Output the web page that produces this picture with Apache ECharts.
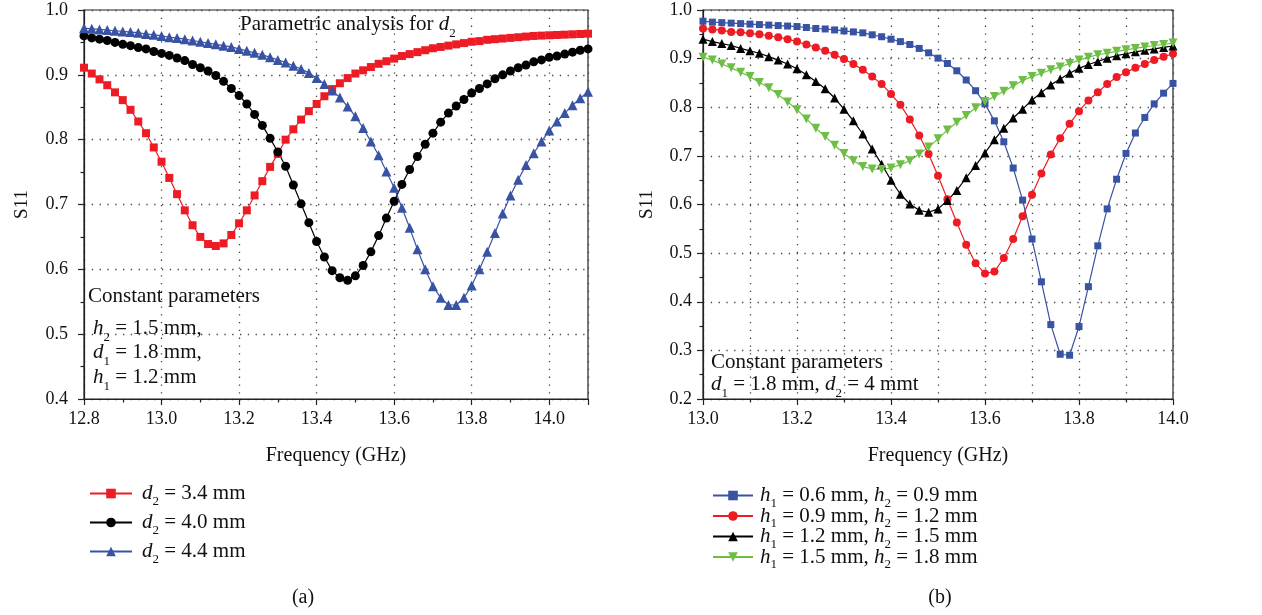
<!DOCTYPE html>
<html><head><meta charset="utf-8">
<script src="https://cdn.jsdelivr.net/npm/echarts@6/dist/echarts.min.js"></script>
<style>html,body{margin:0;padding:0;background:#fff}#c{width:1262px;height:615px}</style>
</head><body><div id="c"></div>
<script>
// ---- Panel (a) data ----
const freqA = [12.80,12.82,12.84,12.86,12.88,12.90,12.92,12.94,12.96,12.98,
13.00,13.02,13.04,13.06,13.08,13.10,13.12,13.14,13.16,13.18,
13.20,13.22,13.24,13.26,13.28,13.30,13.32,13.34,13.36,13.38,
13.40,13.42,13.44,13.46,13.48,13.50,13.52,13.54,13.56,13.58,
13.60,13.62,13.64,13.66,13.68,13.70,13.72,13.74,13.76,13.78,
13.80,13.82,13.84,13.86,13.88,13.90,13.92,13.94,13.96,13.98,
14.00,14.02,14.04,14.06,14.08,14.10];
const d2_34 = [0.911,0.902,0.893,0.884,0.873,0.861,0.846,0.828,0.810,0.788,
0.766,0.741,0.716,0.691,0.668,0.650,0.639,0.636,0.640,0.653,
0.671,0.691,0.714,0.736,0.758,0.778,0.800,0.816,0.831,0.844,
0.855,0.867,0.878,0.887,0.895,0.902,0.907,0.912,0.917,0.921,
0.925,0.929,0.932,0.935,0.938,0.941,0.943,0.945,0.947,0.949,
0.951,0.952,0.954,0.955,0.956,0.957,0.958,0.959,0.960,0.9605,
0.961,0.9615,0.962,0.9625,0.963,0.9635];
const d2_40 = [0.960,0.957,0.955,0.953,0.950,0.947,0.945,0.942,0.940,0.936,
0.933,0.930,0.926,0.922,0.916,0.911,0.906,0.899,0.890,0.879,
0.868,0.855,0.839,0.822,0.802,0.781,0.759,0.730,0.701,0.672,
0.643,0.619,0.598,0.587,0.583,0.590,0.606,0.627,0.652,0.679,
0.705,0.731,0.754,0.774,0.793,0.810,0.827,0.841,0.852,0.862,
0.872,0.879,0.886,0.894,0.900,0.906,0.911,0.915,0.920,0.923,
0.927,0.929,0.932,0.935,0.938,0.940];
const d2_44 = [0.972,0.971,0.970,0.969,0.968,0.967,0.966,0.965,0.963,0.962,
0.960,0.958,0.957,0.955,0.953,0.951,0.949,0.947,0.945,0.943,
0.940,0.937,0.934,0.931,0.927,0.923,0.919,0.914,0.909,0.903,
0.895,0.886,0.876,0.865,0.851,0.836,0.818,0.797,0.776,0.751,
0.726,0.695,0.664,0.631,0.600,0.574,0.556,0.545,0.545,0.556,
0.575,0.600,0.627,0.656,0.686,0.714,0.738,0.761,0.779,0.797,
0.814,0.828,0.841,0.853,0.864,0.874];

// ---- Panel (b) data ----
const freqB = [13.00,13.02,13.04,13.06,13.08,13.10,13.12,13.14,13.16,13.18,
13.20,13.22,13.24,13.26,13.28,13.30,13.32,13.34,13.36,13.38,
13.40,13.42,13.44,13.46,13.48,13.50,13.52,13.54,13.56,13.58,
13.60,13.62,13.64,13.66,13.68,13.70,13.72,13.74,13.76,13.78,
13.80,13.82,13.84,13.86,13.88,13.90,13.92,13.94,13.96,13.98,14.00];
const h06 = [0.977,0.975,0.974,0.973,0.972,0.971,0.970,0.969,0.968,0.967,
0.966,0.964,0.962,0.961,0.959,0.957,0.955,0.953,0.949,0.945,
0.940,0.935,0.929,0.921,0.912,0.901,0.890,0.875,0.856,0.834,
0.807,0.772,0.729,0.675,0.609,0.529,0.441,0.353,0.292,0.290,
0.349,0.431,0.515,0.591,0.652,0.705,0.747,0.779,0.807,0.829,0.849];
const h09 = [0.962,0.960,0.958,0.955,0.954,0.952,0.950,0.947,0.944,0.940,
0.935,0.929,0.923,0.916,0.908,0.899,0.889,0.877,0.863,0.848,
0.827,0.805,0.775,0.742,0.704,0.659,0.611,0.563,0.517,0.479,
0.458,0.462,0.490,0.529,0.576,0.620,0.664,0.703,0.736,0.766,
0.792,0.814,0.831,0.848,0.862,0.872,0.881,0.889,0.897,0.904,0.910];
const h12 = [0.940,0.935,0.931,0.927,0.921,0.916,0.911,0.904,0.897,0.889,
0.879,0.867,0.853,0.838,0.819,0.796,0.772,0.745,0.714,0.683,
0.650,0.621,0.601,0.588,0.584,0.591,0.608,0.629,0.655,0.680,
0.706,0.733,0.757,0.778,0.796,0.815,0.830,0.846,0.858,0.870,
0.880,0.888,0.894,0.901,0.906,0.910,0.914,0.917,0.920,0.923,0.926];
const h15 = [0.903,0.897,0.889,0.881,0.872,0.863,0.851,0.840,0.826,0.811,
0.795,0.776,0.757,0.740,0.722,0.705,0.690,0.678,0.673,0.672,
0.675,0.682,0.690,0.704,0.718,0.735,0.753,0.769,0.783,0.799,
0.812,0.822,0.833,0.844,0.855,0.863,0.870,0.877,0.883,0.890,
0.897,0.903,0.908,0.911,0.915,0.918,0.921,0.924,0.927,0.929,0.932];

const xTicksA = [12.8,13.0,13.2,13.4,13.6,13.8,14.0];
const xTicksB = [13.0,13.2,13.4,13.6,13.8,14.0];

const RED='#ED1C24', BLACK='#000000', BLUE='#3953A4', GREEN='#6DBE45';
const FONT='Liberation Serif';
const pair=(xs,ys)=>xs.map((x,i)=>[x,ys[i]]);

const rich = {
  i:{fontFamily:FONT,fontStyle:'italic',fontSize:21,lineHeight:24,color:'#111'},
  n:{fontFamily:FONT,fontSize:21,lineHeight:24,color:'#111'},
  s:{fontFamily:FONT,fontSize:13,lineHeight:24,padding:[19,0,0,0],color:'#111'}
};
const legendRich = {
  i:{fontFamily:FONT,fontStyle:'italic',fontSize:21,lineHeight:24,color:'#111'},
  n:{fontFamily:FONT,fontSize:21,lineHeight:24,color:'#111'},
  s:{fontFamily:FONT,fontSize:13,lineHeight:24,padding:[16,0,0,0],color:'#111'}
};
const legendText = {
  'd2 = 3.4 mm':'{i|d}{s|2}{n| = 3.4 mm}',
  'd2 = 4.0 mm':'{i|d}{s|2}{n| = 4.0 mm}',
  'd2 = 4.4 mm':'{i|d}{s|2}{n| = 4.4 mm}',
  'h1 = 0.6 mm, h2 = 0.9 mm':'{i|h}{s|1}{n| = 0.6 mm, }{i|h}{s|2}{n| = 0.9 mm}',
  'h1 = 0.9 mm, h2 = 1.2 mm':'{i|h}{s|1}{n| = 0.9 mm, }{i|h}{s|2}{n| = 1.2 mm}',
  'h1 = 1.2 mm, h2 = 1.5 mm':'{i|h}{s|1}{n| = 1.2 mm, }{i|h}{s|2}{n| = 1.5 mm}',
  'h1 = 1.5 mm, h2 = 1.8 mm':'{i|h}{s|1}{n| = 1.5 mm, }{i|h}{s|2}{n| = 1.8 mm}'
};

const dotted = {show:true,lineStyle:{color:'#444',width:1.3,type:[1.3,6.5]}};
function xAxis(grid,min,max,ticks){
  return {type:'value',gridIndex:grid,min:min,max:max,interval:0.2,
    name:'Frequency (GHz)',nameLocation:'middle',nameGap:47,
    nameTextStyle:{fontFamily:FONT,fontSize:20,color:'#111'},
    axisLine:{lineStyle:{color:'#222',width:1.2}},
    axisTick:{inside:false,length:6,lineStyle:{color:'#222',width:1.2}},
    minorTick:{show:true,splitNumber:2,length:3.5,lineStyle:{color:'#222',width:1.2}},
    splitLine:dotted,
    minorSplitLine:grid===1?dotted:{show:false},
    axisLabel:{fontFamily:FONT,fontSize:18,color:'#111',margin:11,
      formatter:v=>ticks.some(t=>Math.abs(t-v)<1e-6)?v.toFixed(1):''}};
}
function yAxis(grid,min,gap,margin){
  return {type:'value',gridIndex:grid,min:min,max:1.0,interval:0.1,
    name:'S11',nameLocation:'middle',nameGap:gap,nameRotate:90,
    nameTextStyle:{fontFamily:FONT,fontSize:19,color:'#111'},
    axisLine:{show:true,lineStyle:{color:'#222',width:1.2}},
    axisTick:{show:true,inside:false,length:6,lineStyle:{color:'#222',width:1.2}},
    minorTick:{show:true,splitNumber:2,length:3.5,lineStyle:{color:'#222',width:1.2}},
    splitLine:dotted,
    axisLabel:{fontFamily:FONT,fontSize:18,color:'#111',margin:margin,formatter:v=>v.toFixed(1)}};
}
function ser(name,xi,data,color,symbol,size,rot){
  return {type:'line',name:name,xAxisIndex:xi,yAxisIndex:xi,data:data,
    symbol:symbol,symbolSize:size,symbolRotate:rot||0,showAllSymbol:true,
    lineStyle:{color:color,width:1.2},itemStyle:{color:color},
    emphasis:{disabled:true},animation:false};
}
function rtext(x,y,t){
  return {type:'text',x:x,y:y,style:{text:t,rich:rich,fontFamily:FONT,fontSize:21,fill:'#111',align:'left',verticalAlign:'middle'},z:50};
}

const chart = echarts.init(document.getElementById('c'),null,{renderer:'canvas'});
chart.setOption({
  animation:false,
  backgroundColor:'#fff',
  grid:[
    {left:84,top:10,width:504,height:389,show:true,borderColor:'#222',borderWidth:1.2,containLabel:false},
    {left:703,top:10,width:470,height:389,show:true,borderColor:'#222',borderWidth:1.2,containLabel:false}
  ],
  xAxis:[xAxis(0,12.8,14.1,xTicksA),xAxis(1,13.0,14.0,xTicksB)],
  yAxis:[yAxis(0,0.4,52,16),yAxis(1,0.2,46,11)],
  legend:[
    {orient:'vertical',left:84,top:474,itemWidth:42,itemHeight:12,itemGap:0,
     data:['d2 = 3.4 mm','d2 = 4.0 mm','d2 = 4.4 mm'],
     formatter:n=>legendText[n],textStyle:{rich:legendRich,padding:[0,0,0,5]},selectedMode:false},
    {orient:'vertical',left:707,top:476,itemWidth:40,itemHeight:12,itemGap:-8.5,
     data:['h1 = 0.6 mm, h2 = 0.9 mm','h1 = 0.9 mm, h2 = 1.2 mm','h1 = 1.2 mm, h2 = 1.5 mm','h1 = 1.5 mm, h2 = 1.8 mm'],
     formatter:n=>legendText[n],textStyle:{rich:legendRich,padding:[0,0,0,2]},selectedMode:false}
  ],
  series:[
    ser('d2 = 3.4 mm',0,pair(freqA,d2_34),RED,'rect',8),
    ser('d2 = 4.0 mm',0,pair(freqA,d2_40),BLACK,'circle',9),
    ser('d2 = 4.4 mm',0,pair(freqA,d2_44),BLUE,'triangle',10),
    ser('h1 = 0.6 mm, h2 = 0.9 mm',1,pair(freqB,h06),BLUE,'rect',7),
    ser('h1 = 0.9 mm, h2 = 1.2 mm',1,pair(freqB,h09),RED,'circle',8),
    ser('h1 = 1.2 mm, h2 = 1.5 mm',1,pair(freqB,h12),BLACK,'triangle',9),
    ser('h1 = 1.5 mm, h2 = 1.8 mm',1,pair(freqB,h15),GREEN,'triangle',9,180)
  ],
  graphic:[
    rtext(240,24,'{n|Parametric analysis for }{i|d}{s|2}'),
    rtext(88,296,'{n|Constant parameters}'),
    rtext(93,328,'{i|h}{s|2}{n| = 1.5 mm,}'),
    rtext(93,352,'{i|d}{s|1}{n| = 1.8 mm,}'),
    rtext(93,377,'{i|h}{s|1}{n| = 1.2 mm}'),
    rtext(711,362,'{n|Constant parameters}'),
    rtext(711,384,'{i|d}{s|1}{n| = 1.8 mm, }{i|d}{s|2}{n| = 4 mmt}'),
    {type:'text',x:303,y:598,style:{text:'(a)',fontFamily:FONT,fontSize:20,fill:'#111',align:'center',verticalAlign:'middle'}},
    {type:'text',x:940,y:598,style:{text:'(b)',fontFamily:FONT,fontSize:20,fill:'#111',align:'center',verticalAlign:'middle'}}
  ]
});
</script></body></html>
